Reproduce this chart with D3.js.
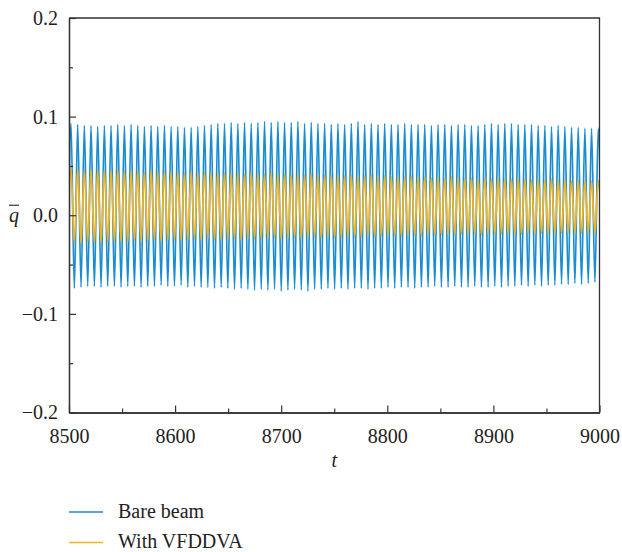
<!DOCTYPE html>
<html>
<head>
<meta charset="utf-8">
<script src="https://cdn.jsdelivr.net/npm/d3@7"></script>
<style>
  html, body { margin: 0; padding: 0; background: #fff; }
  svg { display: block; }
</style>
</head>
<body>
<svg id="chart" width="622" height="552"></svg>
<script>
// Response of the beam mid-point, q̄(t), over t = 8500…9000.
// Each series is stored as its successive maxima and minima (one pair per cycle).
const T0 = 8501.9;      // time of the first maximum
const PERIOD = 6.29;    // oscillation period

const xTicks = [8500, 8600, 8700, 8800, 8900, 9000];
const yTicks = [-0.2, -0.1, 0.0, 0.1, 0.2];

const seriesNames = ["Bare beam", "With VFDDVA"];

// Bare beam: maxima (80) and minima (81, the first one half a period before T0)
const bareMax = [
  0.093, 0.092, 0.091, 0.091, 0.090, 0.091, 0.091, 0.092, 0.091, 0.092,
  0.091, 0.090, 0.091, 0.090, 0.091, 0.090, 0.090, 0.089, 0.089, 0.090,
  0.091, 0.092, 0.093, 0.093, 0.094, 0.093, 0.094, 0.093, 0.094, 0.095,
  0.094, 0.095, 0.094, 0.094, 0.095, 0.093, 0.094, 0.093, 0.093, 0.092,
  0.093, 0.092, 0.093, 0.095, 0.092, 0.093, 0.092, 0.093, 0.092, 0.092,
  0.093, 0.092, 0.092, 0.092, 0.091, 0.092, 0.092, 0.091, 0.092, 0.092,
  0.091, 0.091, 0.092, 0.093, 0.092, 0.093, 0.093, 0.092, 0.092, 0.092,
  0.091, 0.091, 0.090, 0.091, 0.090, 0.089, 0.089, 0.088, 0.088, 0.088
];
const bareMin = [
  -0.073, -0.074, -0.073, -0.072, -0.072, -0.073, -0.072, -0.072, -0.073, -0.072,
  -0.072, -0.073, -0.072, -0.072, -0.071, -0.072, -0.072, -0.071, -0.073, -0.072,
  -0.073, -0.073, -0.074, -0.073, -0.074, -0.075, -0.074, -0.075, -0.076, -0.075,
  -0.076, -0.075, -0.077, -0.076, -0.075, -0.076, -0.077, -0.075, -0.075, -0.074,
  -0.075, -0.074, -0.075, -0.074, -0.074, -0.075, -0.074, -0.074, -0.073, -0.074,
  -0.073, -0.073, -0.074, -0.073, -0.073, -0.072, -0.073, -0.073, -0.072, -0.073,
  -0.073, -0.072, -0.073, -0.073, -0.072, -0.073, -0.072, -0.072, -0.071, -0.072,
  -0.071, -0.072, -0.071, -0.071, -0.070, -0.070, -0.069, -0.070, -0.069, -0.068,
  -0.068
];

// With VFDDVA: maxima (80) and minima (81)
const vfMax = [
  0.047, 0.047, 0.046, 0.046, 0.046, 0.046, 0.045, 0.046, 0.045, 0.045,
  0.045, 0.044, 0.045, 0.044, 0.045, 0.044, 0.044, 0.043, 0.044, 0.043,
  0.044, 0.043, 0.043, 0.043, 0.042, 0.043, 0.042, 0.043, 0.042, 0.042,
  0.043, 0.042, 0.042, 0.041, 0.042, 0.041, 0.042, 0.041, 0.041, 0.041,
  0.041, 0.040, 0.041, 0.040, 0.040, 0.041, 0.040, 0.040, 0.039, 0.040,
  0.039, 0.040, 0.039, 0.039, 0.038, 0.039, 0.038, 0.039, 0.038, 0.038,
  0.038, 0.037, 0.038, 0.037, 0.038, 0.037, 0.037, 0.038, 0.037, 0.036,
  0.037, 0.036, 0.037, 0.036, 0.036, 0.035, 0.036, 0.035, 0.035, 0.035
];
const vfMin = [
  -0.028, -0.028, -0.028, -0.027, -0.028, -0.027, -0.027, -0.027, -0.026, -0.027,
  -0.026, -0.026, -0.026, -0.025, -0.026, -0.025, -0.025, -0.025, -0.025, -0.024,
  -0.025, -0.024, -0.025, -0.024, -0.024, -0.024, -0.025, -0.024, -0.024, -0.023,
  -0.024, -0.023, -0.024, -0.023, -0.023, -0.023, -0.023, -0.022, -0.023, -0.022,
  -0.023, -0.022, -0.022, -0.022, -0.022, -0.021, -0.022, -0.021, -0.021, -0.021,
  -0.021, -0.021, -0.020, -0.021, -0.020, -0.020, -0.020, -0.020, -0.020, -0.019,
  -0.020, -0.019, -0.020, -0.019, -0.019, -0.019, -0.019, -0.019, -0.019, -0.018,
  -0.019, -0.018, -0.019, -0.018, -0.018, -0.018, -0.018, -0.018, -0.018, -0.018,
  -0.018
];

const colors = ["#1a8dd2", "#f0b323"];
const FONT = "'Liberation Serif', 'Times New Roman', serif";

// ---- layout ----
const margin = { left: 69, top: 18, right: 22.5, bottom: 139.5 };
const W = 622, H = 552;
const plotW = W - margin.left - margin.right;
const plotH = H - margin.top - margin.bottom;

const svg = d3.select("#chart");
const x = d3.scaleLinear().domain([8500, 9000]).range([0, plotW]);
const y = d3.scaleLinear().domain([-0.2, 0.2]).range([plotH, 0]);

// interleave minima and maxima in time order
function extrema(maxs, mins) {
  const pts = [];
  mins.forEach((v, j) => {
    pts.push({ t: T0 + (j - 0.5) * PERIOD, v });
    if (j < maxs.length) pts.push({ t: T0 + j * PERIOD, v: maxs[j] });
  });
  return pts;
}
const series = [extrema(bareMax, bareMin), extrema(vfMax, vfMin)];

const g = svg.append("g").attr("transform", `translate(${margin.left},${margin.top})`);

g.append("clipPath").attr("id", "plotClip")
  .append("rect").attr("width", plotW).attr("height", plotH);

const line = d3.line()
  .x(d => x(d.t))
  .y(d => y(d.v))
  .curve(d3.curveMonotoneX);

g.append("g").attr("clip-path", "url(#plotClip)")
  .selectAll("path").data(series).join("path")
  .attr("d", line)
  .attr("fill", "none")
  .attr("stroke", (d, i) => colors[i])
  .attr("stroke-width", 1.7)
  .attr("stroke-linejoin", "round");

// ---- axes ----
const axisColor = "#333";
const fmtY = d3.format(".1f");

const yAxis = g.append("g")
  .call(d3.axisLeft(y).tickValues(yTicks).tickFormat(fmtY).tickSize(-7).tickSizeOuter(0).tickPadding(11));
const yMinor = g.append("g")
  .call(d3.axisLeft(y).tickValues(d3.range(-0.15, 0.2, 0.1)).tickFormat("").tickSize(-4).tickSizeOuter(0));

const xAxis = g.append("g").attr("transform", `translate(0,${plotH})`)
  .call(d3.axisBottom(x).tickValues(xTicks).tickFormat(d3.format("d")).tickSize(-7).tickSizeOuter(0).tickPadding(16));
const xMinor = g.append("g").attr("transform", `translate(0,${plotH})`)
  .call(d3.axisBottom(x).tickValues(d3.range(8550, 9000, 100)).tickFormat("").tickSize(-4).tickSizeOuter(0));

[yAxis, yMinor, xAxis, xMinor].forEach(a => {
  a.selectAll(".domain").attr("stroke", axisColor).attr("stroke-width", 1.3);
  a.selectAll(".tick line").attr("stroke", axisColor).attr("stroke-width", 1.2);
  a.selectAll("text")
    .style("font-family", FONT).style("font-size", "20px").style("fill", "#222");
});

// box: top and right edges
g.append("path")
  .attr("d", `M0,0H${plotW}V${plotH}`)
  .attr("fill", "none").attr("stroke", axisColor).attr("stroke-width", 1.3);

// axis titles
g.append("text")
  .attr("x", plotW / 2).attr("y", plotH + 54)
  .attr("text-anchor", "middle")
  .style("font-family", FONT).style("font-size", "20px").style("font-style", "italic").style("fill", "#222")
  .text("t");

const qLabel = svg.append("g").attr("transform", `translate(14,${margin.top + y(0)})`);
qLabel.append("text")
  .attr("x", 0).attr("y", 7)
  .attr("text-anchor", "middle")
  .style("font-family", FONT).style("font-size", "20px").style("font-style", "italic").style("fill", "#222")
  .text("q");
qLabel.append("line")
  .attr("x1", -5).attr("x2", 5).attr("y1", -10).attr("y2", -10)
  .attr("stroke", "#222").attr("stroke-width", 1.1);

// ---- legend ----
const legend = svg.append("g").attr("transform", "translate(69,512)");
seriesNames.forEach((name, i) => {
  const row = legend.append("g").attr("transform", `translate(0,${i * 30.5})`);
  row.append("line").attr("x1", 0).attr("x2", 34).attr("y1", 0).attr("y2", 0)
    .attr("stroke", colors[i]).attr("stroke-width", 1.4);
  row.append("text").attr("x", 49).attr("y", 5.5)
    .style("font-family", FONT).style("font-size", "20px").style("fill", "#222")
    .text(name);
});
</script>
</body>
</html>
